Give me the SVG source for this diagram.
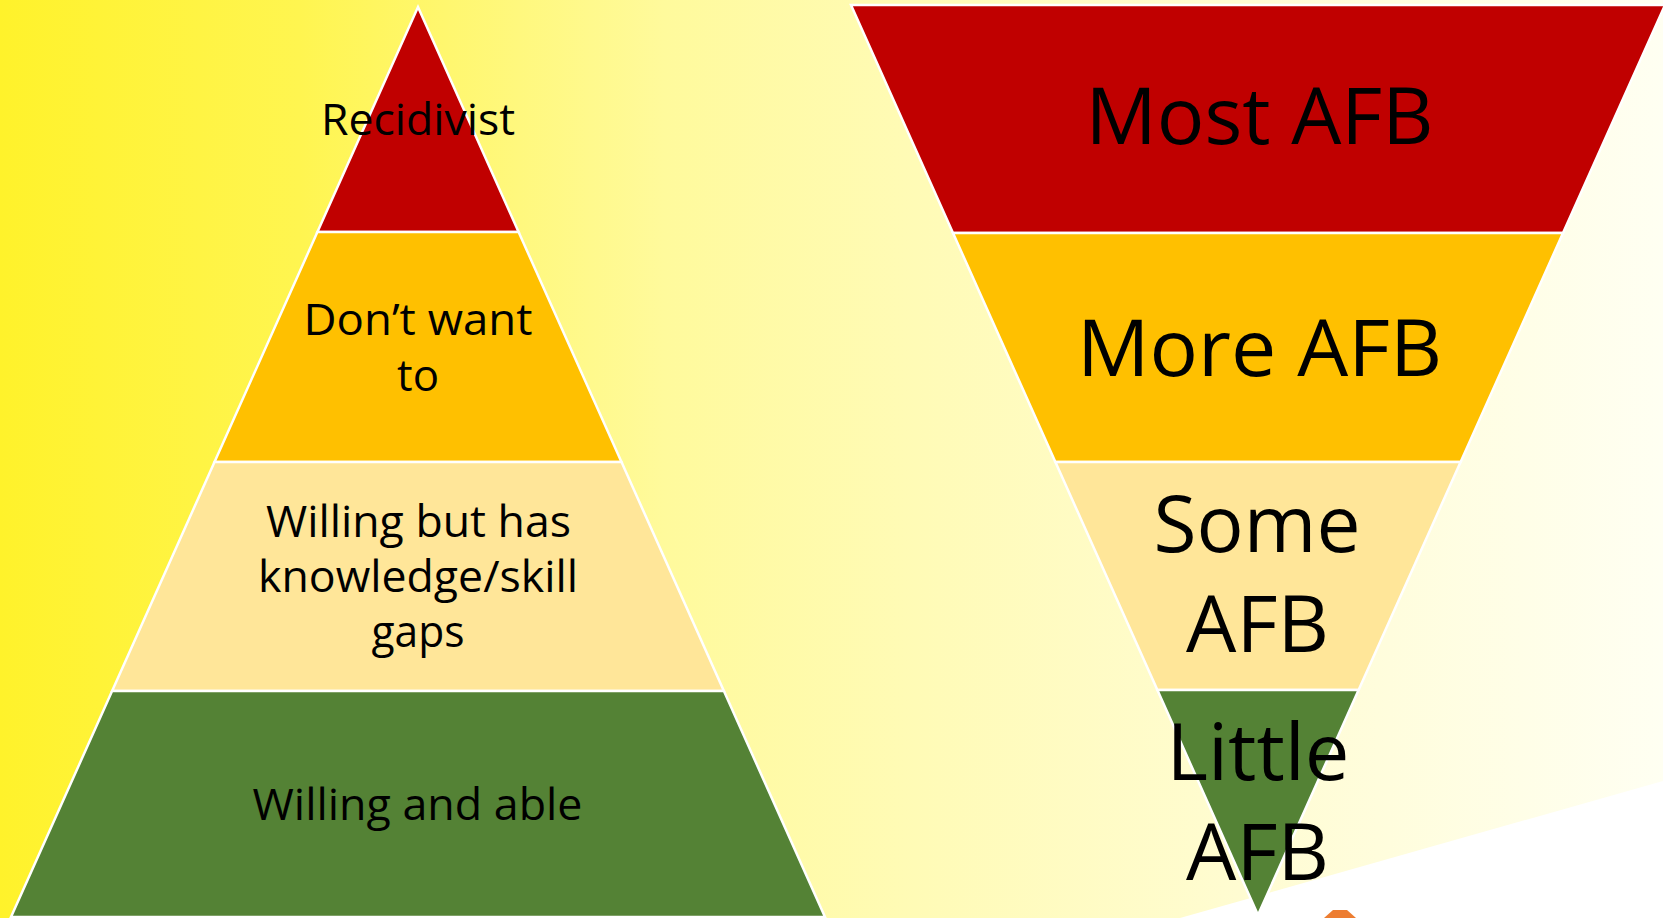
<svg xmlns="http://www.w3.org/2000/svg" width="1663" height="918" viewBox="0 0 1663 918">
  <defs>
    <linearGradient id="bg" x1="0" y1="0" x2="1" y2="0">
      <stop offset="0" stop-color="#FFF22B"/>
      <stop offset="0.18" stop-color="#FFF550"/>
      <stop offset="0.4" stop-color="#FFFA9C"/>
      <stop offset="0.55" stop-color="#FFFBB6"/>
      <stop offset="0.75" stop-color="#FFFCD2"/>
      <stop offset="1" stop-color="#FFFFF2"/>
    </linearGradient>
    <style>
      .tier { stroke: #FFFFFF; stroke-width: 2.5; stroke-linejoin: miter; }
      .red { fill: #C00000; }
      .orange { fill: #FFC000; }
      .light { fill: #FFE699; }
      .green { fill: #548235; }
      .lbl { font-family: "Open Sans", "Noto Sans", sans-serif; fill: #000000; text-anchor: middle; }
      .sm { font-size: 44px; }
      .lg { font-size: 78px; }
    </style>
  </defs>

  <rect x="0" y="0" width="1663" height="918" fill="url(#bg)"/>
  <polygon points="1180,918 1663,781 1663,918" fill="#FFFFFF"/>
  <polygon points="1333,910 1347,910 1356,918 1324,918" fill="#ED7D31"/>

  <g id="left-pyramid">
    <g id="tier-recidivist">
      <polygon class="tier red" points="418,7 518.6,232 317.4,232"/>
      <text class="lbl sm" x="418" y="135" textLength="194" lengthAdjust="spacingAndGlyphs">Recidivist</text>
    </g>
    <g id="tier-dont-want">
      <polygon class="tier orange" points="317.4,232 518.6,232 621.5,462 214.5,462"/>
      <text class="lbl sm" x="418" y="335" textLength="229" lengthAdjust="spacingAndGlyphs">Don’t want</text>
      <text class="lbl sm" x="418" y="391" textLength="42" lengthAdjust="spacingAndGlyphs">to</text>
    </g>
    <g id="tier-willing-gaps">
      <polygon class="tier light" points="214.5,462 621.5,462 723.9,691 112.1,691"/>
      <text class="lbl sm" x="418.5" y="537" textLength="305" lengthAdjust="spacingAndGlyphs">Willing but has</text>
      <text class="lbl sm" x="418" y="592" textLength="320" lengthAdjust="spacingAndGlyphs">knowledge/skill</text>
      <text class="lbl sm" x="418" y="647" textLength="93" lengthAdjust="spacingAndGlyphs">gaps</text>
    </g>
    <g id="tier-willing-able">
      <polygon class="tier green" points="112.1,691 723.9,691 825,917 11,917"/>
      <text class="lbl sm" x="417.5" y="820" textLength="330" lengthAdjust="spacingAndGlyphs">Willing and able</text>
    </g>
  </g>

  <g id="right-pyramid">
    <g id="tier-most-afb">
      <polygon class="tier red" points="851,5 1665,5 1563,233 953,233"/>
      <text class="lbl lg" x="1259.5" y="144" textLength="348" lengthAdjust="spacingAndGlyphs">Most AFB</text>
    </g>
    <g id="tier-more-afb">
      <polygon class="tier orange" points="953,233 1563,233 1460.6,462 1055.4,462"/>
      <text class="lbl lg" x="1259.5" y="376" textLength="365" lengthAdjust="spacingAndGlyphs">More AFB</text>
    </g>
    <g id="tier-some-afb">
      <polygon class="tier light" points="1055.4,462 1460.6,462 1358.6,690 1157.4,690"/>
      <text class="lbl lg" x="1257" y="552" textLength="207" lengthAdjust="spacingAndGlyphs">Some</text>
      <text class="lbl lg" x="1257.5" y="652" textLength="143" lengthAdjust="spacingAndGlyphs">AFB</text>
    </g>
    <g id="tier-little-afb">
      <polygon class="tier green" points="1157.4,690 1358.6,690 1258,915"/>
      <text class="lbl lg" x="1258" y="780" textLength="183" lengthAdjust="spacingAndGlyphs">Little</text>
      <text class="lbl lg" x="1257.5" y="880" textLength="143" lengthAdjust="spacingAndGlyphs">AFB</text>
    </g>
  </g>

  <g id="connectors"/>
</svg>
